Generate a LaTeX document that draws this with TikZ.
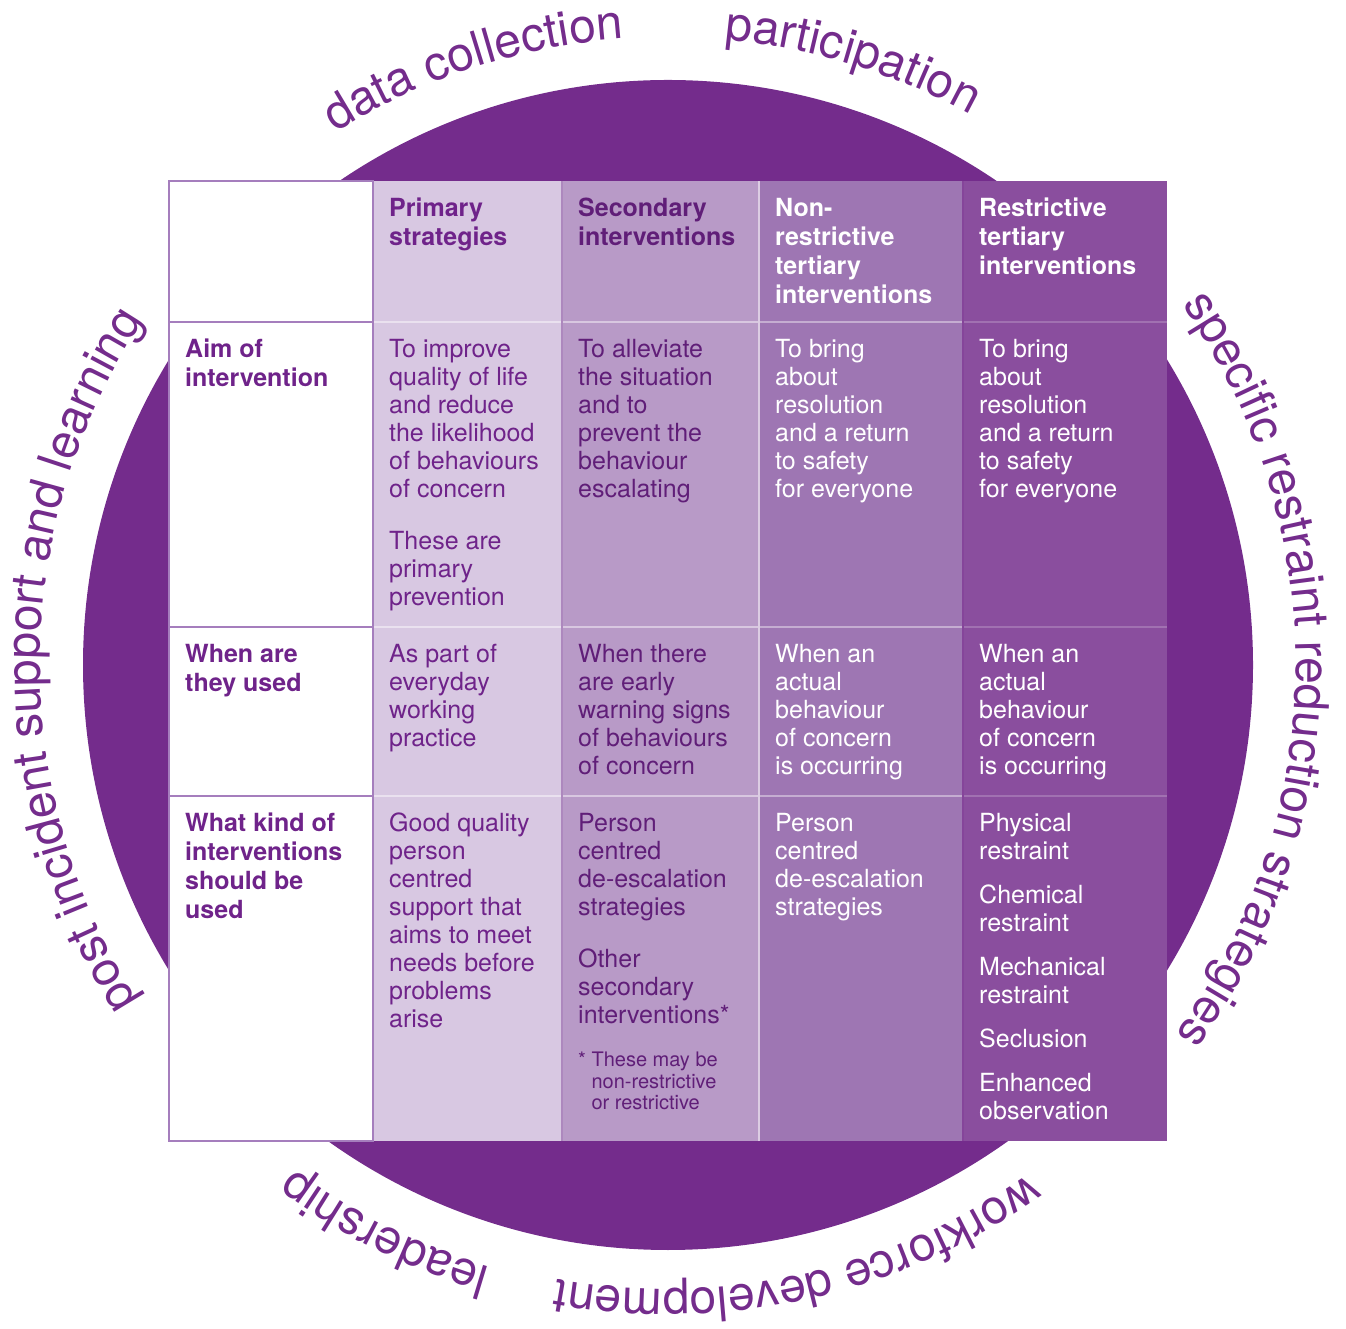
\documentclass[tikz,border=0pt]{standalone}
\usepackage{fontspec}
\setmainfont{TeX Gyre Heros}
\usetikzlibrary{decorations.text}

\definecolor{ring}{RGB}{116,44,140}
\definecolor{colA}{RGB}{216,200,226}
\definecolor{colB}{RGB}{184,154,199}
\definecolor{colC}{RGB}{158,118,179}
\definecolor{colD}{RGB}{138,78,158}
\definecolor{ink}{RGB}{111,35,138}
\definecolor{inkdark}{RGB}{96,30,120}
\definecolor{edge}{RGB}{165,126,189}

\newcommand{\arcfont}{\fontsize{48}{48}\selectfont}

\begin{document}
\begin{tikzpicture}[x=1pt,y=1pt,
    cell/.style={anchor=north west,align=left,inner sep=0pt,text=ink,
      font=\fontsize{25}{28}\selectfont},
    head/.style={cell,font=\bfseries\fontsize{25}{29}\selectfont},
    note/.style={cell,font=\fontsize{20}{21.5}\selectfont},
    arclabel/.style={decorate,decoration={text along path,text align=center,
      text color=ring,text={|\arcfont|#1}}}]

  \useasboundingbox (0,0) rectangle (1346,1328);
  \coordinate (c) at (668,663);
  \fill[ring] (c) circle[radius=585pt];

  % words round the ring
  \path[arclabel=data collection] ([shift={(128:628pt)}]c) arc[start angle=128,end angle=88,radius=628pt];
  \path[arclabel=participation] ([shift={(95:628pt)}]c) arc[start angle=95,end angle=51,radius=628pt];
  \path[arclabel=specific restraint reduction strategies] ([shift={(50:628pt)}]c) arc[start angle=50,end angle=-51,radius=628pt];
  \path[arclabel=workforce development] ([shift={(-45:624pt)}]c) arc[start angle=-45,end angle=-110,radius=624pt];
  \path[arclabel=leadership] ([shift={(-100:628pt)}]c) arc[start angle=-100,end angle=-133,radius=628pt];
  \path[arclabel=post incident support and learning] ([shift={(225:628pt)}]c) arc[start angle=225,end angle=134,radius=628pt];

  % columns
  \fill[white] (169,187) rectangle (373,1147);
  \fill[colA] (373,187) rectangle (562,1147);
  \fill[colB] (562,187) rectangle (759,1147);
  \fill[colC] (759,187) rectangle (963,1147);
  \fill[colD] (963,187) rectangle (1167,1147);

  % row rules
  \foreach \y in {1006,701,532} {
    \draw[edge,line width=2pt] (169,\y) -- (373,\y);
    \draw[colA!55!white,line width=2.5pt] (373,\y) -- (562,\y);
    \draw[colB!55!white,line width=2.5pt] (562,\y) -- (759,\y);
    \draw[colC!60!white,line width=2.5pt] (759,\y) -- (963,\y);
    \draw[colD!80!white,line width=2.5pt] (963,\y) -- (1167,\y);
  }
  \draw[edge,line width=1.5pt] (169,187) rectangle (373,1147);
  \draw[colB!85!ink,line width=1.5pt] (562,187) -- (562,1147);
  \draw[colB!50!white,line width=1.5pt] (759,187) -- (759,1147);
  \draw[colD!80!ink,line width=1.5pt] (963,187) -- (963,1147);

  % header row
  \node[head] (hprim) at (389,1130) {Primary\\strategies};
  \node[head,text=inkdark] (hsec) at (578,1130) {Secondary\\interventions};
  \node[head,text=white] (hnon) at (775,1130) {Non-\\restrictive\\tertiary\\interventions};
  \node[head,text=white] (hres) at (979,1130) {Restrictive\\tertiary\\interventions};

  % aim
  \node[head] (aim) at (185,989) {Aim of\\intervention};
  \node[cell] (aimprim) at (389,989) {To improve\\quality of life\\and reduce\\the likelihood\\of behaviours\\of concern\\[24pt]These are\\primary\\prevention};
  \node[cell,text=inkdark] (aimsec) at (578,989) {To alleviate\\the situation\\and to\\prevent the\\behaviour\\escalating};
  \node[cell,text=white] (aimnon) at (775,989) {To bring\\about\\resolution\\and a return\\to safety\\for everyone};
  \node[cell,text=white] (aimres) at (979,989) {To bring\\about\\resolution\\and a return\\to safety\\for everyone};

  % when
  \node[head] (when) at (185,684) {When are\\they used};
  \node[cell] (whenprim) at (389,684) {As part of\\everyday\\working\\practice};
  \node[cell,text=inkdark] (whensec) at (578,684) {When there\\are early\\warning signs\\of behaviours\\of concern};
  \node[cell,text=white] (whennon) at (775,684) {When an\\actual\\behaviour\\of concern\\is occurring};
  \node[cell,text=white] (whenres) at (979,684) {When an\\actual\\behaviour\\of concern\\is occurring};

  % what kind
  \node[head] (kind) at (185,515) {What kind of\\interventions\\should be\\used};
  \node[cell] (kindprim) at (389,515) {Good quality\\person\\centred\\support that\\aims to meet\\needs before\\problems\\arise};
  \node[cell,text=inkdark] (kindsec) at (578,515) {Person\\centred\\de-escalation\\strategies\\[24pt]Other\\secondary\\interventions*};
  \node[note,text=inkdark] (kindnote) at (578,276) {* These may be\\\phantom{* }non-restrictive\\\phantom{* }or restrictive};
  \node[cell,text=white] (kindnon) at (775,515) {Person\\centred\\de-escalation\\strategies};
  \node[cell,text=white] (kindres) at (979,515) {Physical\\restraint\\[16pt]Chemical\\restraint\\[16pt]Mechanical\\restraint\\[16pt]Seclusion\\[16pt]Enhanced\\observation};
\end{tikzpicture}
\end{document}
